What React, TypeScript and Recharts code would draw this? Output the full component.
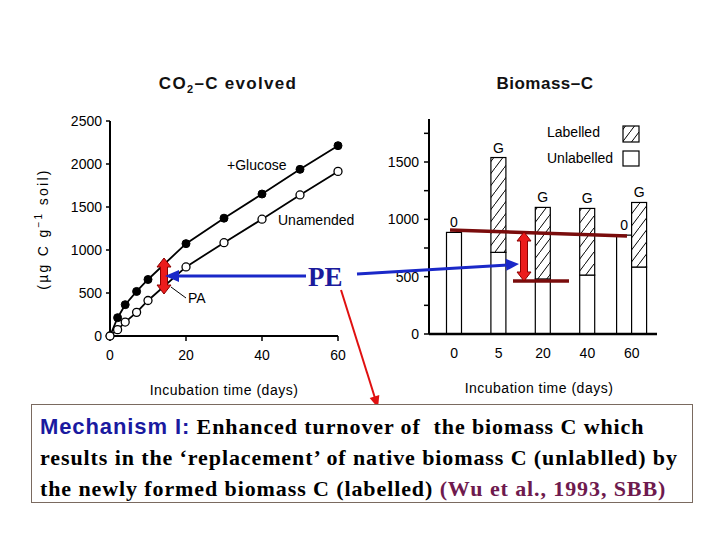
import React from 'react';
import { LineChart, Line, XAxis, YAxis, BarChart, Bar } from 'recharts';

// ---- CO2-C evolved (left panel) ----
const days = [0, 2, 4, 7, 10, 20, 30, 40, 50, 60];
const glucose = [0, 213, 364, 518, 657, 1074, 1370, 1651, 1938, 2213];
const unamended = [0, 74, 162, 275, 413, 803, 1085, 1358, 1640, 1914];
const co2Ticks = [0, 500, 1000, 1500, 2000, 2500];
const dayTicks = [0, 20, 40, 60];

// ---- Biomass-C (right panel) ----
const biomassCats = ['0', '5', '20', '40', '60'];
const original = [886, null, null, null, 862];
const glucUnlabelled = [null, 712, 480, 514, 584];
const glucLabelled = [null, 827, 624, 581, 563];
const biomassTicks = [0, 250, 500, 750, 1000, 1250, 1500, 1750];

const lineData = days.map((d, i) => ({ day: d, glucose: glucose[i], unamended: unamended[i] }));
const barData = biomassCats.map((c, i) => ({ cat: c, o: original[i], gu: glucUnlabelled[i], gl: glucLabelled[i] }));

const SANS = '"Liberation Sans", Arial, sans-serif';
const SERIF = '"Liberation Serif", "Times New Roman", serif';

const OShape = (p: any) => {
  const { x, y, width, height, payload } = p;
  if (height == null || !width || payload.o == null) return null;
  const dx = payload.gl == null ? width / 2 : 0;
  return (
    <g>
      <rect x={x + dx} y={y} width={width} height={height} fill="#fff" stroke="#000" strokeWidth={1.2} />
      <text x={x + dx + width / 2} y={y - 5} textAnchor="middle" fontSize={14} fontFamily={SANS} fill="#000">0</text>
    </g>
  );
};

const GUShape = (p: any) => {
  const { x, y, width, height, payload } = p;
  if (height == null || !width || payload.gu == null) return null;
  const dx = payload.o == null ? -width / 2 : 0;
  return <rect x={x + dx} y={y} width={width} height={height} fill="#fff" stroke="#000" strokeWidth={1.2} />;
};

const GLShape = (p: any) => {
  const { x, y, width, height, payload } = p;
  if (height == null || !width || payload.gl == null) return null;
  const dx = payload.o == null ? -width / 2 : 0;
  return (
    <g>
      <rect x={x + dx} y={y} width={width} height={height} fill="url(#hatch)" stroke="#000" strokeWidth={1.2} />
      <text x={x + dx + width / 2} y={y - 5} textAnchor="middle" fontSize={14} fontFamily={SANS} fill="#000">G</text>
    </g>
  );
};

const dblArrow = (cx: number, y1: number, y2: number) => {
  const hh = 9, hw = 7, sw = 3.5;
  const pts = [
    [cx, y1], [cx + hw, y1 + hh], [cx + sw, y1 + hh], [cx + sw, y2 - hh], [cx + hw, y2 - hh],
    [cx, y2], [cx - hw, y2 - hh], [cx - sw, y2 - hh], [cx - sw, y1 + hh], [cx - hw, y1 + hh],
  ].map((p) => p.join(',')).join(' ');
  return <polygon points={pts} fill="#ec1c1c" stroke="#8a0000" strokeWidth={1} />;
};

const tickStyle = { fill: '#000', fontSize: 14, fontFamily: SANS };

export default function App() {
  return (
    <div style={{ position: 'absolute', left: 0, top: 0, width: 720, height: 540, background: '#fff', overflow: 'hidden' }}>
      <svg width={0} height={0} style={{ position: 'absolute' }}>
        <defs>
          <pattern id="hatch" patternUnits="userSpaceOnUse" width={9} height={12}>
            <rect width={9} height={12} fill="#fff" />
            <path d="M0,12 L9,0" stroke="#000" strokeWidth={1} strokeLinecap="square" />
          </pattern>
        </defs>
      </svg>

      <div style={{ position: 'absolute', left: 0, top: 0 }}>
        <LineChart width={360} height={400} data={lineData} margin={{ top: 121, right: 22, left: 50, bottom: 34 }}>
          <XAxis
            type="number"
            dataKey="day"
            domain={[0, 60]}
            ticks={dayTicks}
            height={30}
            tick={tickStyle}
            tickSize={5}
            tickMargin={9}
            axisLine={{ stroke: '#000', strokeWidth: 2 }}
            tickLine={{ stroke: '#000', strokeWidth: 1.5 }}
          />
          <YAxis
            type="number"
            domain={[0, 2500]}
            ticks={co2Ticks}
            width={60}
            tick={tickStyle}
            tickSize={4}
            tickMargin={4}
            axisLine={{ stroke: '#000', strokeWidth: 2 }}
            tickLine={{ stroke: '#000', strokeWidth: 1.5 }}
          />
          <Line
            dataKey="glucose"
            type="linear"
            stroke="#000"
            strokeWidth={1.8}
            dot={{ r: 4, fill: '#000', stroke: '#000', strokeWidth: 1 }}
            isAnimationActive={false}
          />
          <Line
            dataKey="unamended"
            type="linear"
            stroke="#000"
            strokeWidth={1.8}
            dot={{ r: 4, fill: '#fff', stroke: '#000', strokeWidth: 1.3 }}
            isAnimationActive={false}
          />
        </LineChart>
      </div>

      <div style={{ position: 'absolute', left: 360, top: 0 }}>
        <BarChart width={360} height={400} data={barData} margin={{ top: 119, right: 63, left: 19, bottom: 36 }} barGap={0} barSize={15}>
          <XAxis
            dataKey="cat"
            height={30}
            padding={{ left: 3, right: 3 }}
            tick={tickStyle}
            tickLine={false}
            tickSize={5}
            tickMargin={9}
            axisLine={{ stroke: '#000', strokeWidth: 2.5 }}
          />
          <YAxis
            type="number"
            domain={[0, 1875]}
            ticks={biomassTicks}
            tickFormatter={(v: number) => (v % 500 === 0 ? String(v) : '')}
            width={50}
            tick={tickStyle}
            tickSize={5}
            tickMargin={5}
            axisLine={{ stroke: '#000', strokeWidth: 2 }}
            tickLine={{ stroke: '#000', strokeWidth: 1.5 }}
          />
          <Bar dataKey="o" stackId="o" shape={OShape} isAnimationActive={false} />
          <Bar dataKey="gu" stackId="g" shape={GUShape} isAnimationActive={false} />
          <Bar dataKey="gl" stackId="g" shape={GLShape} isAnimationActive={false} />
        </BarChart>
      </div>

      <svg width={720} height={540} style={{ position: 'absolute', left: 0, top: 0, pointerEvents: 'none' }}>
        {/* titles */}
        <text x={228} y={89} textAnchor="middle" fontSize={17} fontWeight="bold" fontFamily={SANS} fill="#111" letterSpacing={1.3}>
          CO<tspan fontSize={11} dy={4}>2</tspan><tspan dy={-4}>–C  evolved</tspan>
        </text>
        <text x={545} y={89} textAnchor="middle" fontSize={17} fontWeight="bold" fontFamily={SANS} fill="#111" letterSpacing={0.5}>Biomass–C</text>

        {/* axis labels */}
        <text transform="translate(48,229) rotate(-90)" textAnchor="middle" fontSize={14} fontFamily={SANS} fill="#000" letterSpacing={2.3}>
          (µg  C  g<tspan fontSize={10} dy={-6}>−1</tspan><tspan dy={6}>  soil)</tspan>
        </text>
        <text x={224} y={395} textAnchor="middle" fontSize={14} fontFamily={SANS} fill="#000" letterSpacing={0.5}>Incubation  time  (days)</text>
        <text x={539} y={393} textAnchor="middle" fontSize={14} fontFamily={SANS} fill="#000" letterSpacing={0.5}>Incubation  time  (days)</text>

        {/* series labels */}
        <text x={227} y={170} fontSize={14} fontFamily={SANS} fill="#000">+Glucose</text>
        <text x={278} y={225} fontSize={14} fontFamily={SANS} fill="#000">Unamended</text>

        {/* legend */}
        <text x={547} y={137} fontSize={14} fontFamily={SANS} fill="#000">Labelled</text>
        <rect x={623} y={126} width={16} height={16} fill="url(#hatch)" stroke="#000" strokeWidth={1.2} />
        <text x={547} y={163} fontSize={14} fontFamily={SANS} fill="#000">Unlabelled</text>
        <rect x={623} y={151} width={16} height={15} fill="#fff" stroke="#000" strokeWidth={1.2} />

        {/* dark red reference lines */}
        <line x1={450} y1={230} x2={627} y2={236} stroke="#7a0c0c" strokeWidth={3.5} />
        <line x1={513} y1={281} x2={569} y2={281} stroke="#7a0c0c" strokeWidth={3.5} />

        {/* red double arrows */}
        {dblArrow(164, 258, 294)}
        {dblArrow(524, 232, 281)}

        {/* PA label */}
        <line x1={171} y1={287} x2={186} y2={298} stroke="#000" strokeWidth={1} />
        <text x={188} y={303} fontSize={14} fontFamily={SANS} fill="#000">PA</text>

        {/* blue arrows */}
        <line x1={306} y1={276} x2={176} y2={276} stroke="#1a28c8" strokeWidth={3} />
        <polygon points="165,276 179,270 179,282" fill="#1a28c8" />
        <line x1={357} y1={274} x2={508} y2={265} stroke="#1a28c8" strokeWidth={3} />
        <polygon points="519,264 506.4,270.8 505.6,258.8" fill="#1a28c8" />

        {/* PE */}
        <text x={308} y={286} fontSize={27} fontWeight="bold" fontFamily={SERIF} fill="#1b1b9c">PE</text>

        {/* red line to box */}
        <line x1={341} y1={290} x2={375} y2={398} stroke="#e01010" strokeWidth={2} />
        <polygon points="378,408 379.3,395 369.7,398" fill="#e01010" />
      </svg>

      <div
        style={{
          position: 'absolute', left: 31, top: 404, width: 662, height: 99,
          border: '1px solid #7a6a60', background: '#fff',
          fontFamily: SERIF, fontWeight: 'bold', fontSize: 22, color: '#000', letterSpacing: 0.9,
          lineHeight: '31px', paddingTop: 6, paddingLeft: 8, boxSizing: 'border-box', whiteSpace: 'pre',
        }}
      >
        <div>
          <span style={{ fontFamily: SANS, color: '#1a1aa0', fontWeight: 'bold' }}>Mechanism I:</span>
          {' Enhanced turnover of  the biomass C which'}
        </div>
        <div>results in the ‘replacement’ of native biomass C (unlablled) by</div>
        <div>
          {'the newly formed biomass C (labelled) '}
          <span style={{ color: '#6e1a4e' }}>(Wu et al., 1993, SBB)</span>
        </div>
      </div>
    </div>
  );
}
